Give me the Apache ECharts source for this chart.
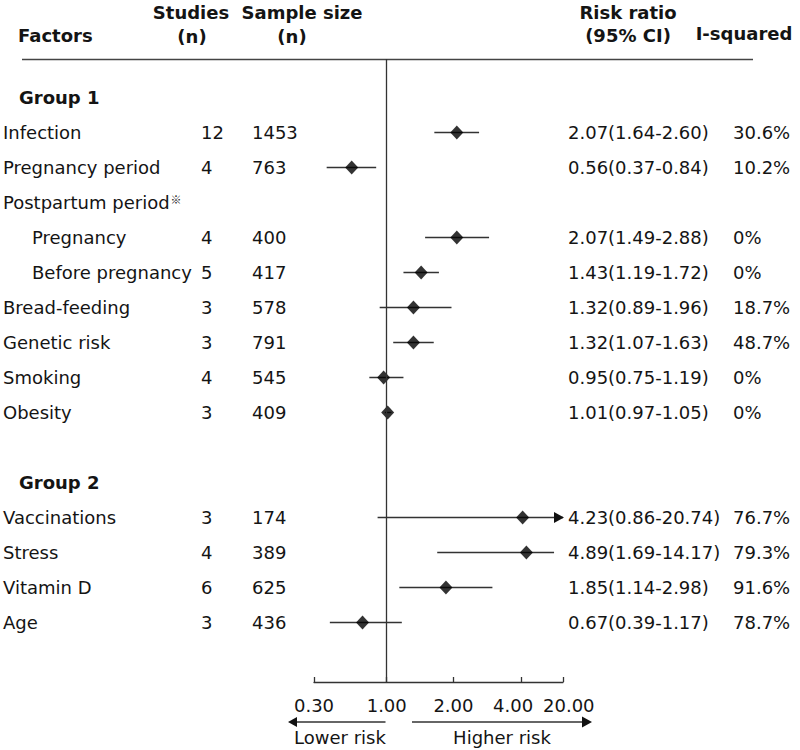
<!DOCTYPE html>
<html>
<head>
<meta charset="utf-8">
<title>Risk factors</title>
<script src="https://cdn.jsdelivr.net/npm/echarts@6/dist/echarts.min.js"></script>
<style>
  html, body { margin: 0; padding: 0; background: #fff; }
  #chart { width: 800px; height: 750px; }
</style>
</head>
<body>
<div id="chart"></div>
<script>
const factors = ['Infection', 'Pregnancy period', 'Pregnancy', 'Before pregnancy', 'Bread-feeding', 'Genetic risk',
  'Smoking', 'Obesity', 'Vaccinations', 'Stress', 'Vitamin D', 'Age']
const studies = [12, 4, 4, 5, 3, 3, 4, 3, 3, 4, 6, 3]
const sampleSize = [1453, 763, 400, 417, 578, 791, 545, 409, 174, 389, 625, 436]
const riskRatio = [2.07, 0.56, 2.07, 1.43, 1.32, 1.32, 0.95, 1.01, 4.23, 4.89, 1.85, 0.67]
const ciLow = [1.64, 0.37, 1.49, 1.19, 0.89, 1.07, 0.75, 0.97, 0.86, 1.69, 1.14, 0.39]
const ciHigh = [2.60, 0.84, 2.88, 1.72, 1.96, 1.63, 1.19, 1.05, 20.74, 14.17, 2.98, 1.17]
const iSquared = ['30.6%', '10.2%', '0%', '0%', '18.7%', '48.7%', '0%', '0%', '76.7%', '79.3%', '91.6%', '78.7%']
const tickValues = [0.3, 1, 2, 4, 20]
const tickLabels = ['0.30', '1.00', '2.00', '4.00', '20.00']

// table rows, top to bottom
const rowLayout = [
  ['group', 'Group 1'], ['item', 0], ['item', 1], ['head', 'Postpartum period'], ['sub', 2], ['sub', 3],
  ['item', 4], ['item', 5], ['item', 6], ['item', 7], ['blank'],
  ['group', 'Group 2'], ['item', 8], ['item', 9], ['item', 10], ['item', 11]
]
const rowOf = factors.map((_, i) => rowLayout.findIndex(r => (r[0] === 'item' || r[0] === 'sub') && r[1] === i))
const rowIdx = rowLayout.map((_, k) => k)

// the x axis of the figure is log-spaced between its own ticks, not one log scale
const tickPos = [0, 73, 140, 208, 250]
function toAxis(v) {
  const c = Math.min(Math.max(v, tickValues[0]), tickValues[tickValues.length - 1])
  for (let k = 0; k < tickValues.length - 1; k++) {
    const a = tickValues[k], b = tickValues[k + 1]
    if (c <= b) {
      return tickPos[k] + Math.log(c / a) / Math.log(b / a) * (tickPos[k + 1] - tickPos[k])
    }
  }
  return tickPos[tickPos.length - 1]
}
const xMax = tickValues[tickValues.length - 1]

const FONT = "'DejaVu Sans', Verdana, sans-serif"
const INK = '#141414'

function leftLabel(v) {
  const r = rowLayout[v]
  if (!r || r[0] === 'blank') return ''
  if (r[0] === 'group') return '{ind16| }{g|' + r[1] + '}'
  if (r[0] === 'head') return '{t|' + r[1] + '}{sup|※}'
  const i = r[1]
  if (r[0] === 'sub') return '{ind29| }{fs|' + factors[i] + '}{s|' + studies[i] + '}{n|' + sampleSize[i] + '}'
  return '{f|' + factors[i] + '}{s|' + studies[i] + '}{n|' + sampleSize[i] + '}'
}
function rightLabel(v) {
  const r = rowLayout[v]
  if (!r || (r[0] !== 'item' && r[0] !== 'sub')) return ''
  const i = r[1]
  return '{r|' + riskRatio[i].toFixed(2) + '(' + ciLow[i].toFixed(2) + '-' + ciHigh[i].toFixed(2) + ')}{p|' + iSquared[i] + '}'
}
// last two tick labels sit off-centre in the figure, as they would collide otherwise
function tickLabel(v) {
  const k = tickPos.indexOf(v)
  if (k === tickPos.length - 1) return '{hi|' + tickLabels[k] + '}'
  if (k === tickPos.length - 2) return '{lo|' + tickLabels[k] + '}'
  return '{c|' + tickLabels[k] + '}'
}

const txt = { fontSize: 18, fontFamily: FONT, color: INK }
const chart = echarts.init(document.getElementById('chart'), null, { renderer: 'svg' })
chart.setOption({
  backgroundColor: '#fff',
  animation: false,
  textStyle: { fontFamily: FONT, color: INK },
  grid: { left: 313, right: 237, top: 59, bottom: 68 },
  xAxis: {
    type: 'value', min: 0, max: tickPos[tickPos.length - 1],
    axisLine: { show: true, onZero: false, lineStyle: { color: '#333', width: 1.3 } },
    axisTick: { show: true, inside: true, length: 5, customValues: tickPos, lineStyle: { color: '#333', width: 1.3 } },
    axisLabel: {
      customValues: tickPos, margin: 14, fontSize: 18, fontFamily: FONT, color: INK,
      showMinLabel: true, showMaxLabel: true, hideOverlap: false,
      formatter: tickLabel,
      rich: {
        c: Object.assign({}, txt),
        lo: Object.assign({ width: 24, align: 'right' }, txt),
        hi: Object.assign({ width: 40, align: 'left' }, txt)
      }
    },
    splitLine: { show: false }
  },
  yAxis: [{
    type: 'value', inverse: true, min: -1.1, max: 16.7, position: 'left',
    axisLine: { show: false }, axisTick: { show: false }, splitLine: { show: false },
    axisLabel: {
      customValues: rowIdx, margin: 311, align: 'left', formatter: leftLabel,
      rich: {
        f: Object.assign({ width: 198 }, txt),
        fs: Object.assign({ width: 169 }, txt),
        t: Object.assign({}, txt),
        sup: { fontSize: 11, fontFamily: "'Noto Sans CJK SC', 'DejaVu Sans'", color: '#222', verticalAlign: 'top', padding: [0, 0, 8, 1] },
        s: Object.assign({ width: 51 }, txt),
        n: Object.assign({}, txt),
        g: Object.assign({}, txt, { fontWeight: 'bold' }),
        ind16: { width: 16, fontSize: 18 },
        ind29: { width: 29, fontSize: 18 }
      }
    }
  }, {
    type: 'value', inverse: true, min: -1.1, max: 16.7, position: 'right',
    axisLine: { show: false }, axisTick: { show: false }, splitLine: { show: false },
    axisLabel: {
      customValues: rowIdx, margin: 5, align: 'left', formatter: rightLabel,
      rich: {
        r: Object.assign({ width: 165 }, txt),
        p: Object.assign({}, txt)
      }
    }
  }],
  series: [{
    name: 'CI',
    type: 'custom',
    data: factors.map((_, i) => [toAxis(ciLow[i]), toAxis(ciHigh[i]), rowOf[i], ciHigh[i] > xMax ? 1 : 0]),
    encode: { x: [0, 1], y: 2 },
    renderItem: (params, api) => {
      const p1 = api.coord([api.value(0), api.value(2)])
      const p2 = api.coord([api.value(1), api.value(2)])
      const children = [{
        type: 'line',
        shape: { x1: p1[0], y1: p1[1], x2: p2[0], y2: p2[1] },
        style: { stroke: '#333', lineWidth: 1.4 }
      }]
      if (api.value(3)) {
        children.push({
          type: 'polygon',
          shape: { points: [[p2[0] - 9, p2[1] - 5.5], [p2[0] + 1, p2[1]], [p2[0] - 9, p2[1] + 5.5]] },
          style: { fill: '#111' }
        })
      }
      return { type: 'group', children }
    },
    z: 2
  }, {
    name: 'Risk ratio',
    type: 'scatter',
    data: factors.map((_, i) => [toAxis(riskRatio[i]), rowOf[i]]),
    symbol: 'diamond',
    symbolSize: [13, 14],
    itemStyle: { color: '#000' },
    z: 3,
    markLine: {
      silent: true,
      symbol: 'none',
      label: { show: false },
      lineStyle: { color: '#333', width: 1.3, type: 'solid' },
      data: [{ xAxis: toAxis(1) }]
    }
  }],
  graphic: [
    { type: 'text', left: 18, top: 26, style: { text: 'Factors', font: 'bold 18px ' + FONT, fill: INK } },
    { type: 'text', x: 191, y: 12, style: { text: 'Studies', font: 'bold 18px ' + FONT, fill: INK, textAlign: 'center', textVerticalAlign: 'middle' } },
    { type: 'text', x: 192, y: 36, style: { text: '(n)', font: 'bold 18px ' + FONT, fill: INK, textAlign: 'center', textVerticalAlign: 'middle' } },
    { type: 'text', x: 302, y: 12, style: { text: 'Sample size', font: 'bold 18px ' + FONT, fill: INK, textAlign: 'center', textVerticalAlign: 'middle' } },
    { type: 'text', x: 292, y: 36, style: { text: '(n)', font: 'bold 18px ' + FONT, fill: INK, textAlign: 'center', textVerticalAlign: 'middle' } },
    { type: 'text', x: 628, y: 12, style: { text: 'Risk ratio', font: 'bold 18px ' + FONT, fill: INK, textAlign: 'center', textVerticalAlign: 'middle' } },
    { type: 'text', x: 628, y: 35, style: { text: '(95% CI)', font: 'bold 18px ' + FONT, fill: INK, textAlign: 'center', textVerticalAlign: 'middle' } },
    { type: 'text', x: 744, y: 33, style: { text: 'I-squared', font: 'bold 18px ' + FONT, fill: INK, textAlign: 'center', textVerticalAlign: 'middle' } },
    { type: 'line', shape: { x1: 22, y1: 59.5, x2: 753, y2: 59.5 }, style: { stroke: '#444', lineWidth: 1.5 } },
    // direction arrows under the axis
    { type: 'line', shape: { x1: 385.5, y1: 722, x2: 296, y2: 722 }, style: { stroke: '#333', lineWidth: 1.4 } },
    { type: 'polygon', shape: { points: [[288, 722], [297, 717], [297, 727]] }, style: { fill: '#111' } },
    { type: 'line', shape: { x1: 412, y1: 722, x2: 584, y2: 722 }, style: { stroke: '#333', lineWidth: 1.4 } },
    { type: 'polygon', shape: { points: [[592, 722], [582, 716.5], [582, 727.5]] }, style: { fill: '#111' } },
    { type: 'text', x: 340, y: 737, style: { text: 'Lower risk', font: '18px ' + FONT, fill: INK, textAlign: 'center', textVerticalAlign: 'middle' } },
    { type: 'text', x: 502, y: 737, style: { text: 'Higher risk', font: '18px ' + FONT, fill: INK, textAlign: 'center', textVerticalAlign: 'middle' } }
  ]
})
</script>
</body>
</html>
